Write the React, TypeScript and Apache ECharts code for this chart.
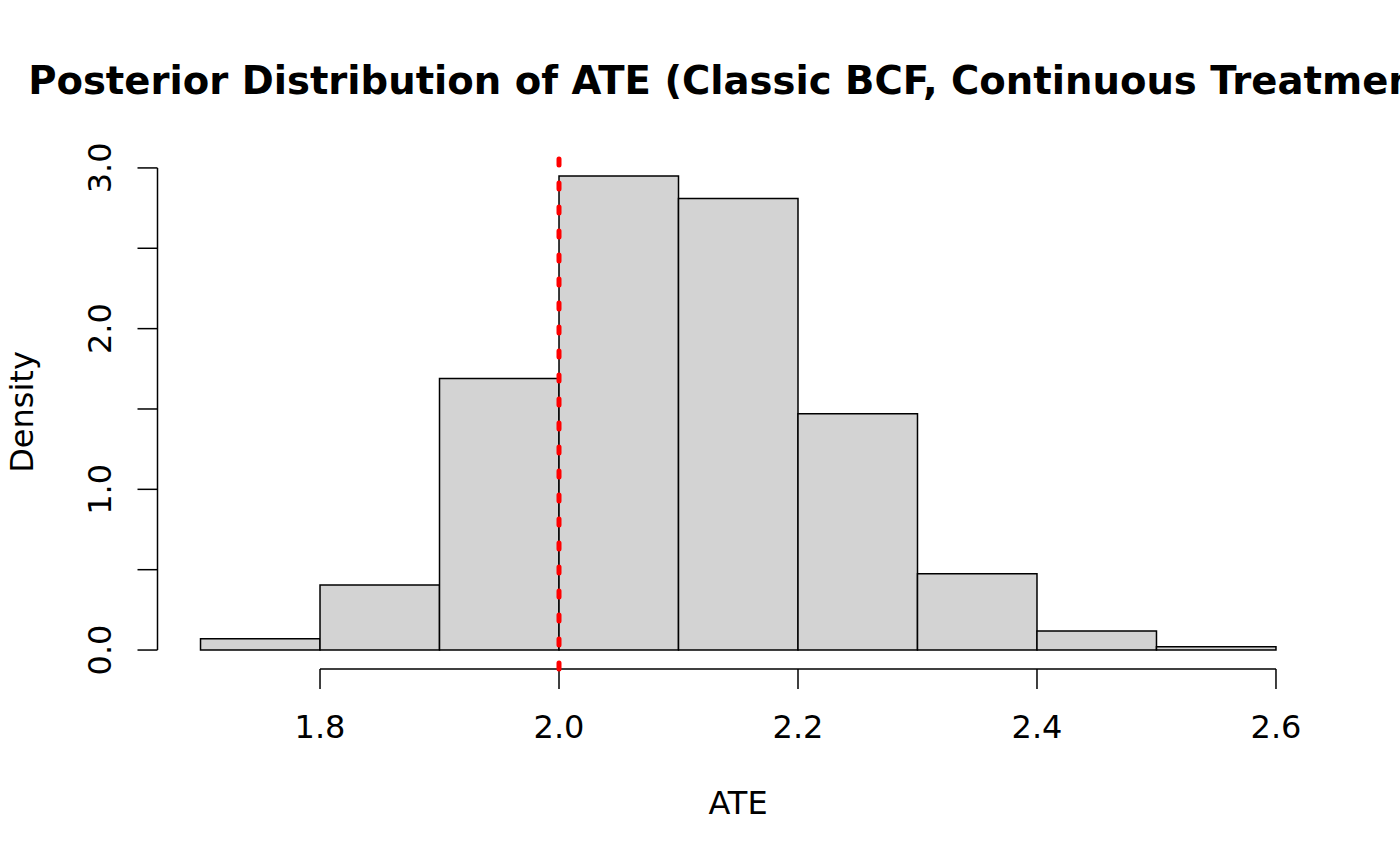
import React, { useEffect, useRef } from "react";
import * as echarts from "echarts";

const titleText = "Posterior Distribution of ATE (Classic BCF, Continuous Treatment)";
const xLabel = "ATE";
const yLabel = "Density";
const binStarts = [1.7, 1.8, 1.9, 2.0, 2.1, 2.2, 2.3, 2.4, 2.5];
const binWidth = 0.1;
const densities = [0.07, 0.405, 1.69, 2.95, 2.81, 1.47, 0.475, 0.118, 0.02];
const xTicks = [1.8, 2.0, 2.2, 2.4, 2.6];
const xTickLabels = ["1.8", "2.0", "2.2", "2.4", "2.6"];
const yTicks = [0, 0.5, 1.0, 1.5, 2.0, 2.5, 3.0];
const yTickLabels = ["0.0", "", "1.0", "", "2.0", "", "3.0"];
const trueATE = 2.0;

const FONT = "DejaVu Sans";
const AXIS_FS = 32;

export default function App() {
  const ref = useRef<HTMLDivElement>(null);
  useEffect(() => {
    document.body.style.margin = "0";
    const chart = echarts.init(ref.current!, null, { renderer: "svg" });
    const xMin = 1.7, xMax = 2.6;
    const xPad = (xMax - xMin) * 0.04;
    const yMaxData = Math.max(...densities);
    const yPad = yMaxData * 0.04;
    const xLo = xMin - xPad, xHi = xMax + xPad;
    const yLo = -yPad, yHi = yMaxData + yPad;

    const barData = binStarts.map((s, i) => [s, s + binWidth, densities[i]]);

    chart.setOption({
      animation: false,
      grid: { left: 157.5, right: 81, top: 157, bottom: 196 },
      xAxis: { type: "value", min: xLo, max: xHi, show: false },
      yAxis: { type: "value", min: yLo, max: yHi, show: false },
      graphic: [
        {
          type: "text",
          x: 740,
          y: 80,
          style: {
            text: titleText,
            font: `bold 38.6px "${FONT}"`,
            fill: "#000",
            textAlign: "center",
            textVerticalAlign: "middle",
          },
        },
        {
          type: "text",
          x: 738,
          y: 803,
          style: {
            text: xLabel,
            font: `${AXIS_FS}px "${FONT}"`,
            fill: "#000",
            textAlign: "center",
            textVerticalAlign: "middle",
          },
        },
        {
          type: "text",
          x: 22,
          y: 412,
          rotation: Math.PI / 2,
          style: {
            text: yLabel,
            font: `${AXIS_FS}px "${FONT}"`,
            fill: "#000",
            textAlign: "center",
            textVerticalAlign: "middle",
          },
        },
      ],
      series: [
        {
          type: "custom",
          data: barData,
          renderItem: (params: any, api: any) => {
            const p0 = api.coord([api.value(0), 0]);
            const p1 = api.coord([api.value(1), api.value(2)]);
            return {
              type: "rect",
              shape: { x: p0[0], y: p1[1], width: p1[0] - p0[0], height: p0[1] - p1[1] },
              style: { fill: "#d3d3d3", stroke: "#000", lineWidth: 1.5 },
            };
          },
        },
        {
          type: "custom",
          data: [[0]],
          renderItem: (params: any, api: any) => {
            const ya = api.coord([xLo, yTicks[0]]);
            const yb = api.coord([xLo, yTicks[yTicks.length - 1]]);
            const xa = api.coord([xTicks[0], yLo]);
            const xb = api.coord([xTicks[xTicks.length - 1], yLo]);
            const children: any[] = [
              { type: "line", shape: { x1: ya[0], y1: ya[1], x2: yb[0], y2: yb[1] }, style: { stroke: "#000", lineWidth: 1.5 } },
              { type: "line", shape: { x1: xa[0], y1: xa[1], x2: xb[0], y2: xb[1] }, style: { stroke: "#000", lineWidth: 1.5 } },
            ];
            yTicks.forEach((t, i) => {
              const p = api.coord([xLo, t]);
              children.push({ type: "line", shape: { x1: p[0], y1: p[1], x2: p[0] - 20, y2: p[1] }, style: { stroke: "#000", lineWidth: 1.5 } });
              if (yTickLabels[i]) {
                children.push({
                  type: "text",
                  x: p[0] - 58,
                  y: p[1],
                  rotation: Math.PI / 2,
                  style: { text: yTickLabels[i], font: `${AXIS_FS}px "${FONT}"`, fill: "#000", textAlign: "center", textVerticalAlign: "middle" },
                });
              }
            });
            xTicks.forEach((t, i) => {
              const p = api.coord([t, yLo]);
              children.push({ type: "line", shape: { x1: p[0], y1: p[1], x2: p[0], y2: p[1] + 20 }, style: { stroke: "#000", lineWidth: 1.5 } });
              children.push({
                type: "text",
                x: p[0],
                y: p[1] + 58,
                style: { text: xTickLabels[i], font: `${AXIS_FS}px "${FONT}"`, fill: "#000", textAlign: "center", textVerticalAlign: "middle" },
              });
            });
            return { type: "group", children };
          },
        },
        {
          type: "custom",
          data: [[trueATE]],
          renderItem: (params: any, api: any) => {
            const a = api.coord([api.value(0), yLo]);
            const b = api.coord([api.value(0), yHi]);
            return {
              type: "line",
              shape: { x1: a[0], y1: a[1], x2: b[0], y2: b[1] },
              style: { stroke: "#ff0000", lineWidth: 5, lineDash: [6, 18], lineCap: "round" },
            };
          },
        },
      ],
    });
    return () => chart.dispose();
  }, []);
  return <div ref={ref} style={{ width: 1400, height: 865 }} />;
}
